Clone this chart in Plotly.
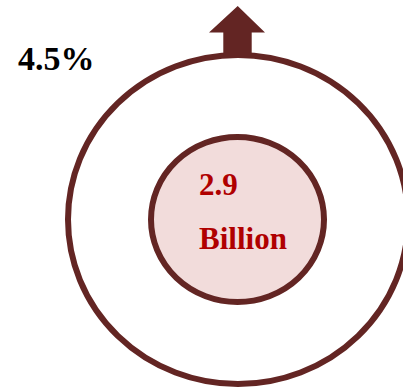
import plotly.graph_objects as go

# ---- data ----
growth_label = ["4.5%"]
value_labels = ["2.9"]
unit_labels = ["Billion"]

W, H = 403, 388
DARK = "#632523"
FILL = "#f2dcdb"
RED = "#b00000"

fig = go.Figure()

shapes = [
    # outer ring
    dict(type="circle", xref="x", yref="y", x0=68, x1=408, y0=55, y1=384,
         line=dict(color=DARK, width=6), fillcolor="rgba(0,0,0,0)", layer="above"),
    # inner filled circle
    dict(type="circle", xref="x", yref="y", x0=151, x1=324, y0=137, y1=302,
         line=dict(color=DARK, width=6), fillcolor=FILL, layer="below"),
    # up arrow
    dict(type="path", xref="x", yref="y",
         path="M 237.7 6 L 265 32.5 L 251.7 32.5 L 251.7 56 L 223.3 56 L 223.3 32.5 L 209 32.5 Z",
         fillcolor=DARK, line=dict(width=0), layer="above"),
]

annotations = [
    dict(x=16, y=58, xref="x", yref="y", text=f"<b>{growth_label[0]}</b>", showarrow=False,
         xanchor="left", yanchor="middle",
         font=dict(family="Liberation Serif", size=34, color="black")),
    dict(x=197, y=184, xref="x", yref="y", text=f"<b>{value_labels[0]}</b>", showarrow=False,
         xanchor="left", yanchor="middle",
         font=dict(family="Liberation Serif", size=31, color=RED)),
    dict(x=197, y=238, xref="x", yref="y", text=f"<b>{unit_labels[0]}</b>", showarrow=False,
         xanchor="left", yanchor="middle",
         font=dict(family="Liberation Serif", size=31, color=RED)),
]

fig.update_layout(
    width=W, height=H,
    margin=dict(l=0, r=0, t=0, b=0),
    paper_bgcolor="white", plot_bgcolor="white",
    xaxis=dict(range=[0, W], visible=False, fixedrange=True),
    yaxis=dict(range=[H, 0], visible=False, fixedrange=True),
    shapes=shapes, annotations=annotations, showlegend=False,
)

fig.write_html("out.html", config={"displayModeBar": False})
